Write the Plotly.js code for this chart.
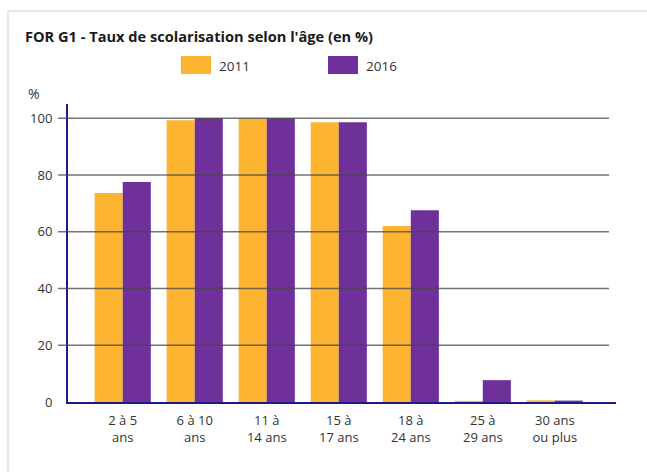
<!DOCTYPE html>
<html>
<head>
<meta charset="utf-8">
<script src="https://cdn.plot.ly/plotly-3.0.1.min.js"></script>
<style>
html,body{margin:0;padding:0;background:#fff;overflow:hidden;}
#frame{position:absolute;left:7px;top:10px;width:700px;height:500px;border-left:2px solid #e6e6e6;border-top:2px solid #e6e6e6;}
#chart{position:absolute;left:0;top:0;width:647px;height:472px;}
</style>
</head>
<body>
<div id="frame"></div>
<div id="chart"></div>
<script>
const categories = ["2 à 5<br>ans","6 à 10<br>ans","11 à<br>14 ans","15 à<br>17 ans","18 à<br>24 ans","25 à<br>29 ans","30 ans<br>ou plus"];
const seriesNames = ["2011","2016"];
const seriesColors = ["#FDB431","#6F3199"];
const values2011 = [73.6, 99.3, 100, 98.6, 62.0, 0.4, 0.6];
const values2016 = [77.5, 100, 100, 98.6, 67.6, 7.7, 0.5];
const yTicks = [0,20,40,60,80,100];

const fontFam = '"Open Sans", "Noto Sans", sans-serif';

const traces = [
  {type:'bar', name:seriesNames[0], x:categories, y:values2011, marker:{color:seriesColors[0]}, hoverinfo:'y'},
  {type:'bar', name:seriesNames[1], x:categories, y:values2016, marker:{color:seriesColors[1]}, hoverinfo:'y'}
];

const W = 647, H = 472;
const plotL = 68, plotR = 616, plotT = 104, plotB = 402;
const plotW = plotR - plotL, plotH = plotB - plotT;
const px = x => (x - plotL) / plotW;
const py = y => (plotB - y) / plotH;

const gridShapes = yTicks.filter(v => v > 0).map(v => ({
  type:'line', xref:'paper', yref:'y', x0:px(58), x1:px(609), y0:v, y1:v,
  line:{color:'rgba(70,70,70,0.75)', width:1.6}, layer:'above'
}));

// custom legend (large swatches as in the reference)
const legendX = [181, 328];
const legendShapes = seriesNames.map((n, i) => ({
  type:'rect', xref:'paper', yref:'paper', x0:px(legendX[i]), x1:px(legendX[i] + 30), y0:py(74), y1:py(56),
  fillcolor:seriesColors[i], line:{width:0}
}));
const legendLabels = seriesNames.map((n, i) => ({
  text:n, xref:'paper', yref:'paper', x:px(legendX[i] + 36), xanchor:'left', y:py(65.5), yanchor:'middle',
  showarrow:false, font:{size:13.5, color:'#333'}
}));

const layout = {
  width:W, height:H,
  margin:{l:plotL, r:W-plotR, t:plotT, b:H-plotB},
  paper_bgcolor:'rgba(0,0,0,0)', plot_bgcolor:'rgba(0,0,0,0)',
  font:{family:fontFam, size:12, color:'#333'},
  title:{text:"<b>FOR G1 - Taux de scolarisation selon l'âge (en %)</b>", x:25/W, xanchor:'left', y:1-37/H, yanchor:'middle', font:{family:fontFam, size:14.6, color:'#1a1a1a'}},
  barmode:'group', bargap:0.22, bargroupgap:0,
  xaxis:{type:'category', range:[-0.76, 6.85], showgrid:false, zeroline:false, showline:true, linecolor:'#1a1a8c', linewidth:2, ticks:'', ticklabelstandoff:5, tickfont:{size:13, color:'#333'}, fixedrange:true},
  yaxis:{range:[0,105], tickvals:yTicks, showgrid:false, zeroline:false, showline:true, linecolor:'#1a1a8c', linewidth:2, ticks:'', ticklabelstandoff:11, tickfont:{size:13, color:'#333'}, fixedrange:true},
  showlegend:false,
  shapes:gridShapes.concat(legendShapes),
  annotations:[{text:'%', xref:'paper', yref:'paper', x:px(26), xanchor:'left', y:py(94), yanchor:'middle', showarrow:false, font:{size:14, color:'#333'}}].concat(legendLabels)
};

Plotly.newPlot('chart', traces, layout, {displayModeBar:false, staticPlot:true});
</script>
</body>
</html>
